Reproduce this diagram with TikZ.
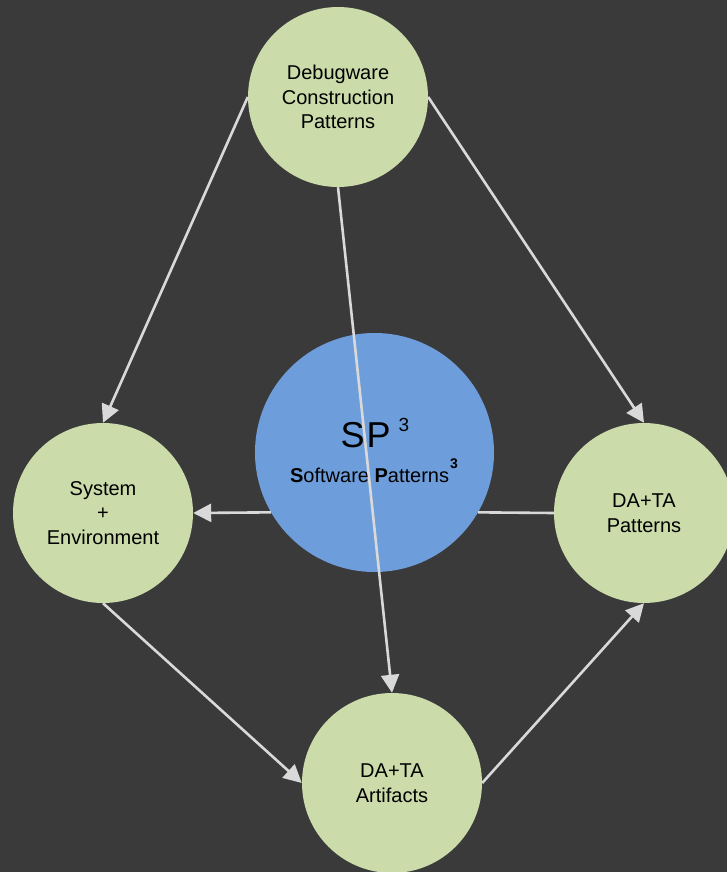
\documentclass[tikz,border=0pt]{standalone}
\usepackage{fontspec}
\setmainfont{Liberation Sans}
\usetikzlibrary{arrows.meta}
\definecolor{bg}{HTML}{3A3A3A}
\definecolor{greenfill}{HTML}{CBDBA9}
\definecolor{bluefill}{HTML}{6D9EDB}
\definecolor{linecol}{HTML}{D9D9D9}
\tikzset{
  gcircle/.style={circle, fill=greenfill, minimum size=180pt, inner sep=0pt, align=center, text=black, font=\fontsize{20}{24.5}\selectfont},
  bcircle/.style={circle, fill=bluefill, minimum size=239pt, inner sep=0pt},
  conn/.style={draw=linecol, line width=2.6pt},
  arr/.style={conn, -{Triangle[length=18pt,width=18pt]}}
}
\begin{document}
\begin{tikzpicture}[x=1pt,y=-1pt]
\fill[bg] (0,0) rectangle (727,872);
\useasboundingbox (0,0) rectangle (727,872);
\node[gcircle] (top) at (338,97) {Debugware\\Construction\\Patterns};
\node[gcircle] (left) at (103,513) {System\\+\\Environment};
\node[gcircle] (right) at (644,513) {DA+TA\\Patterns};
\node[gcircle] (bottom) at (392,783) {DA+TA\\Artifacts};
\node[bcircle] (blue) at (374.5,452.5) {};
\node[anchor=base, inner sep=0pt, text=black, font=\fontsize{36}{36}\selectfont] (sp) at (375,447) {S\hspace{2pt}P\hspace{8pt}\raisebox{16pt}{\fontsize{19}{19}\selectfont 3}};
\node[anchor=base, inner sep=0pt, text=black, font=\fontsize{20}{20}\selectfont] (sptext) at (374,482) {\textbf{S}oftware \textbf{P}atterns\hspace{1pt}\raisebox{14pt}{\fontsize{14}{14}\selectfont\bfseries 3}};
\draw[arr] (blue.210.4) -- (left.east);
\draw[conn] (blue.-30.4) -- (right.west);
\draw[arr] (top.west) -- (left.north);
\draw[arr] (top.east) -- (right.north);
\draw[arr] (top.south) -- (bottom.north);
\draw[arr] (left.south) -- (bottom.west);
\draw[arr] (bottom.east) -- (right.south);
\end{tikzpicture}
\end{document}
